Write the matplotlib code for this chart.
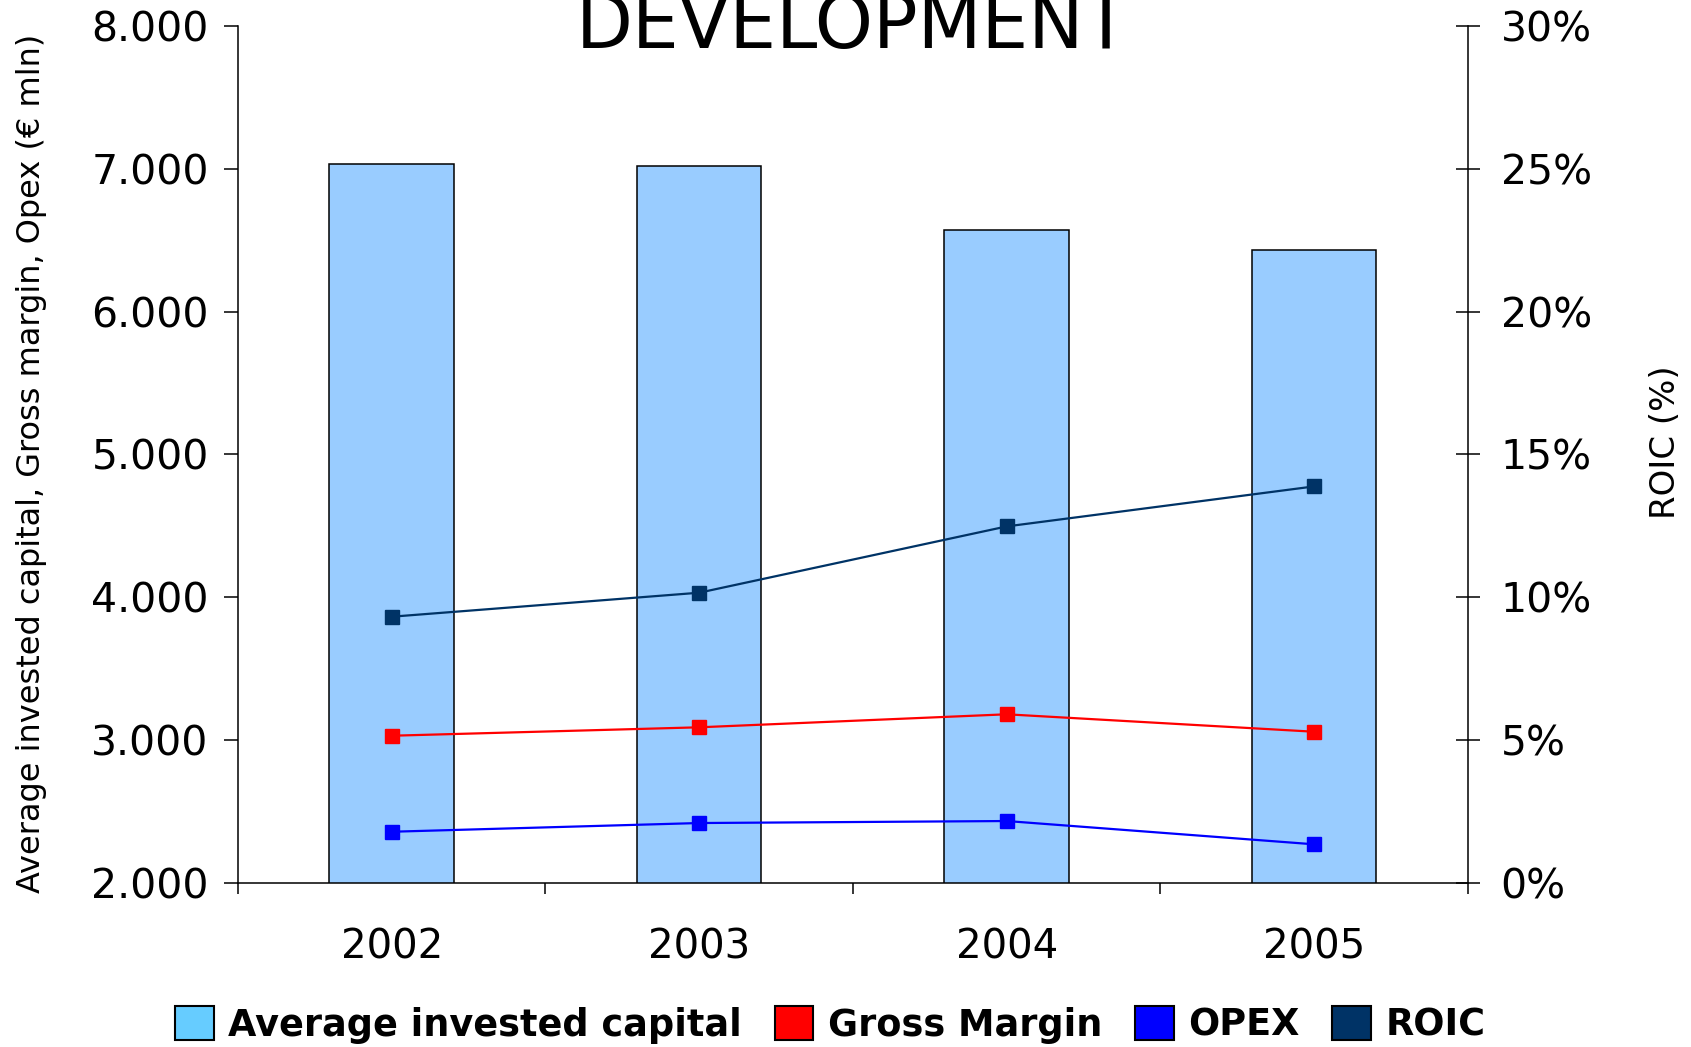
import matplotlib
matplotlib.use("Agg")
import matplotlib.pyplot as plt
from matplotlib.patches import Patch
from matplotlib.ticker import FuncFormatter, FixedLocator

# Yearly figures (€ mln) and return on invested capital (%)
years = ["2002", "2003", "2004", "2005"]
avg_invested_capital = [7031, 7018, 6570, 6434]
gross_margin = [3031, 3090, 3181, 3059]
opex = [2359, 2420, 2434, 2271]
roic = [9.32, 10.16, 12.48, 13.88]

left_ticks = [2000, 3000, 4000, 5000, 6000, 7000, 8000]
right_ticks = [0, 5, 10, 15, 20, 25, 30]

legend_labels = ["Average invested capital", "Gross Margin", "OPEX", "ROIC"]

BAR_COLOR = "#99CCFF"
LEGEND_BAR_COLOR = "#66CCFF"
GM_COLOR = "#FF0000"
OPEX_COLOR = "#0000FF"
ROIC_COLOR = "#003366"

plt.rcParams["font.family"] = ["DejaVu Sans"]

fig = plt.figure(figsize=(16.91, 10.47), dpi=100)
ax = fig.add_axes([0.1407, 0.1566, 0.7274, 0.8188])
ax2 = ax.twinx()

x = [i + 0.5 for i in range(len(years))]

ax.bar(x, avg_invested_capital, width=0.405, color=BAR_COLOR,
       edgecolor="black", linewidth=1.1, bottom=0, zorder=2)
ax.plot(x, gross_margin, color=GM_COLOR, lw=1.6, marker="s", ms=10.5,
        mec=GM_COLOR, mfc=GM_COLOR, zorder=3)
ax.plot(x, opex, color=OPEX_COLOR, lw=1.6, marker="s", ms=10.5,
        mec=OPEX_COLOR, mfc=OPEX_COLOR, zorder=3)
ax2.plot(x, roic, color=ROIC_COLOR, lw=1.6, marker="s", ms=10.5,
         mec=ROIC_COLOR, mfc=ROIC_COLOR, zorder=3)

ax.set_xlim(0, 4)
ax.set_ylim(2000, 8000)
ax2.set_ylim(0, 30)

# Left axis
ax.set_yticks(left_ticks)
ax.yaxis.set_major_formatter(FuncFormatter(lambda v, p: f"{int(v):,}".replace(",", ".")))
ax.tick_params(axis="y", direction="out", length=10, width=1.1, pad=11, labelsize=29.5)

# Category axis: ticks at the boundaries, labels centred under the bars
ax.xaxis.set_major_locator(FixedLocator([0, 1, 2, 3, 4]))
ax.xaxis.set_minor_locator(FixedLocator(x))
ax.set_xticklabels([""] * 5)
ax.set_xticklabels(years, minor=True)
ax.tick_params(axis="x", which="major", direction="out", length=8, width=1.1)
ax.tick_params(axis="x", which="minor", length=0, pad=32, labelsize=29)

# Right axis
ax2.set_yticks(right_ticks)
ax2.yaxis.set_major_formatter(FuncFormatter(lambda v, p: f"{int(v)}%"))
ax2.tick_params(axis="y", direction="inout", length=17, width=1.1, pad=15, labelsize=29.5)

for a in (ax, ax2):
    for s in a.spines.values():
        s.set_linewidth(1.1)
        s.set_color("black")
ax.spines["top"].set_visible(False)
ax.spines["right"].set_visible(False)
ax2.spines["top"].set_visible(False)
ax2.spines["left"].set_visible(False)
ax2.spines["bottom"].set_visible(False)

# Titles and axis labels
fig.text(0.5044, 0.9544, "DEVELOPMENT", ha="center", va="baseline", fontsize=53.3)
fig.text(0.0189, 0.557, "Average invested capital, Gross margin, Opex (€ mln)",
         rotation=90, ha="center", va="center", fontsize=23)
fig.text(0.985, 0.578, "ROIC (%)", rotation=90, ha="center", va="center", fontsize=24.5)

handles = [
    Patch(facecolor=LEGEND_BAR_COLOR, edgecolor="black", linewidth=1.5),
    Patch(facecolor=GM_COLOR, edgecolor="black", linewidth=1.5),
    Patch(facecolor=OPEX_COLOR, edgecolor="black", linewidth=1.5),
    Patch(facecolor=ROIC_COLOR, edgecolor="black", linewidth=1.5),
]
fig.legend(handles, legend_labels, loc="center", bbox_to_anchor=(0.491, 0.021),
           ncol=4, frameon=False, prop={"weight": "bold", "size": 26.4},
           handlelength=1.05, handleheight=1.05, handletextpad=0.39,
           columnspacing=0.9, borderaxespad=0, borderpad=0)

fig.savefig("out.png", dpi=100)
